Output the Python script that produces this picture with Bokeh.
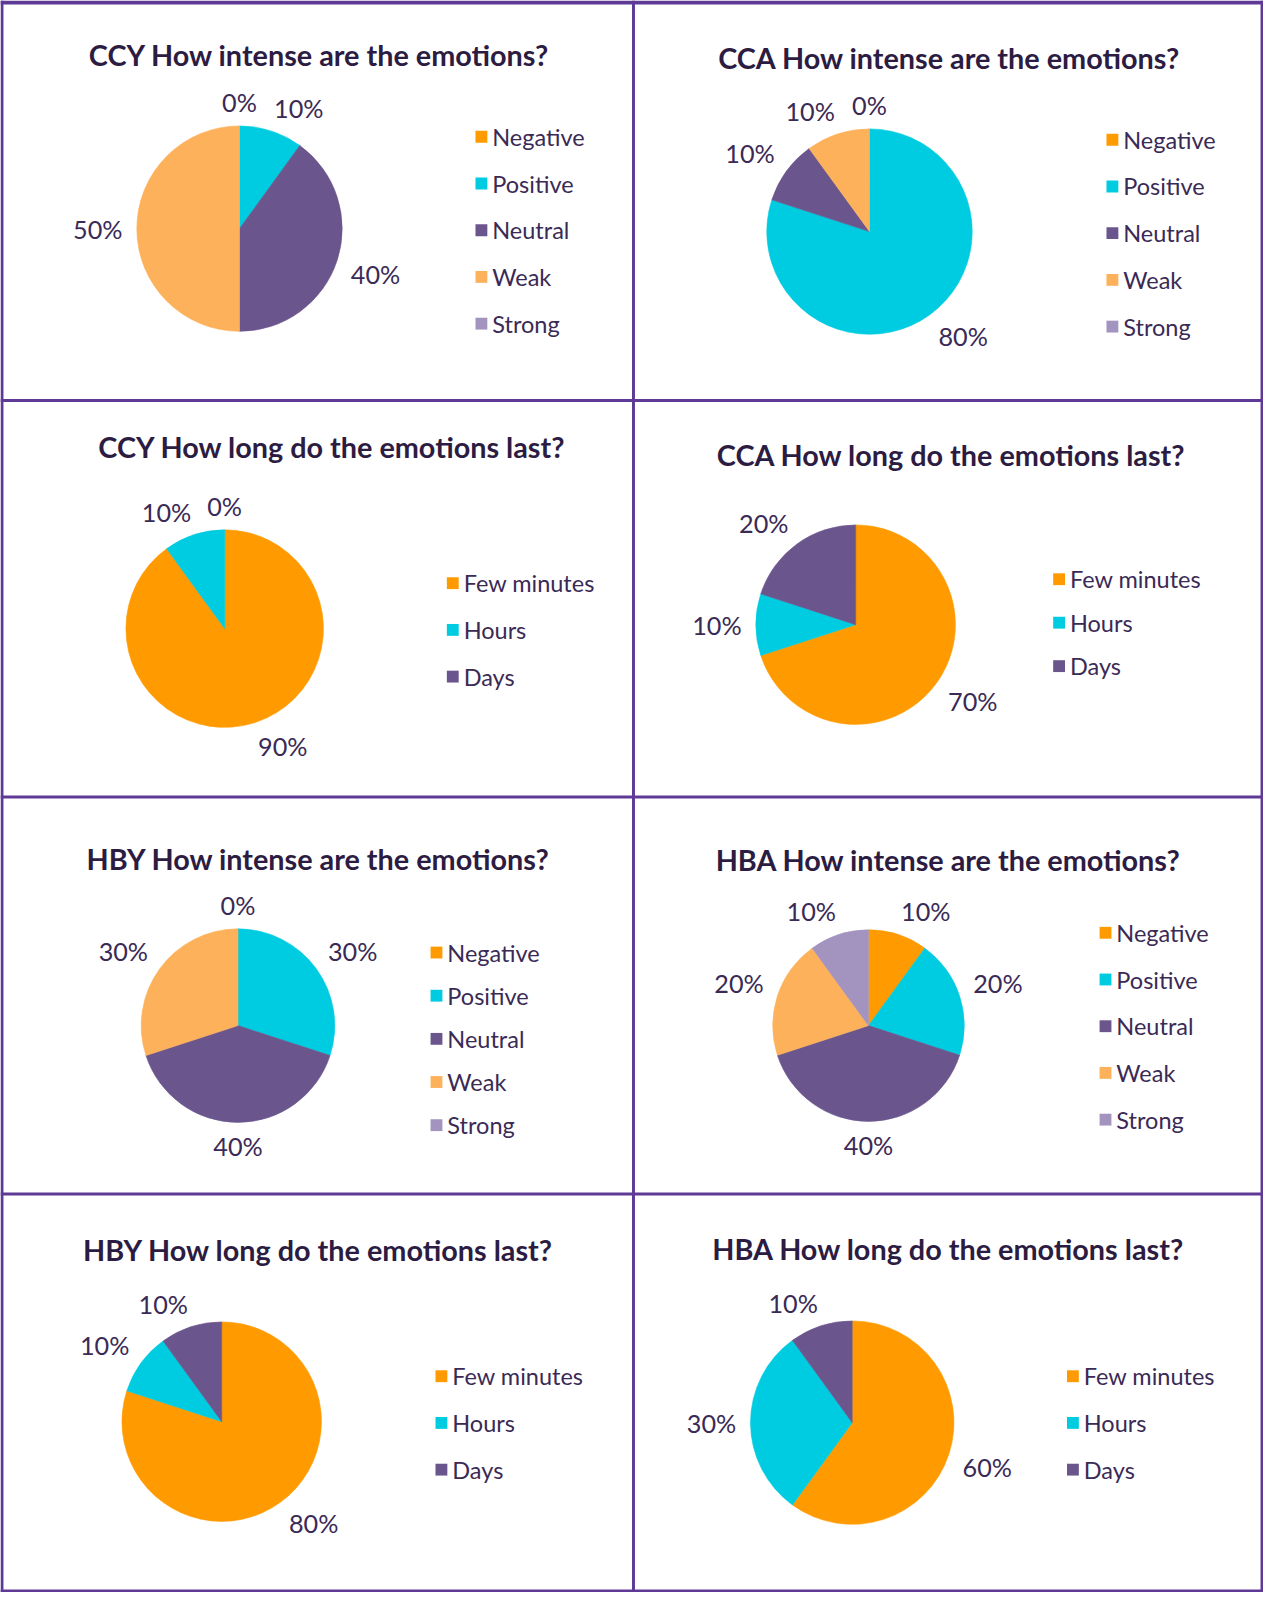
import math
from bokeh.plotting import figure
from bokeh.models import Range1d, ColumnDataSource
from bokeh.embed import file_html
from bokeh.resources import INLINE
from bokeh.core.properties import value

# ---------------- data ----------------
intensity_categories = ["Negative", "Positive", "Neutral", "Weak", "Strong"]
duration_categories = ["Few minutes", "Hours", "Days"]

ccy_intensity = [0, 10, 40, 50, 0]
cca_intensity = [0, 80, 10, 10, 0]
hby_intensity = [0, 30, 40, 30, 0]
hba_intensity = [10, 20, 40, 20, 10]

ccy_duration = [90, 10, 0]
cca_duration = [70, 10, 20]
hby_duration = [80, 10, 10]
hba_duration = [60, 30, 10]

titles = [
    "CCY How intense are the emotions?",
    "CCA How intense are the emotions?",
    "CCY How long do the emotions last?",
    "CCA How long do the emotions last?",
    "HBY How intense are the emotions?",
    "HBA How intense are the emotions?",
    "HBY How long do the emotions last?",
    "HBA How long do the emotions last?",
]

intensity_colors = ["#FF9A00", "#00CCE1", "#6A558D", "#FDB15B", "#A394BF"]
duration_colors = ["#FF9A00", "#00CCE1", "#6A558D"]

# ---------------- layout (reference pixel space) ----------------
REF_W, REF_H = 1279, 1612
W = 1263
H = round(REF_H * W / REF_W)
S = W / REF_W  # screen scale

BORDER = "#5E3A96"
TITLE_COLOR = "#2C1C42"
TEXT_COLOR = "#3A2A55"
FONT = "Lato"

panels = [
    # title center, pie center, radius, legend text x, legend first row y, legend step
    dict(values=ccy_intensity, cats=intensity_categories, cols=intensity_colors,
         title=(323, 55), c=(242, 231), r=104, lx=498, ly=138, step=47.3),
    dict(values=cca_intensity, cats=intensity_categories, cols=intensity_colors,
         title=(961, 58), c=(880, 234), r=104, lx=1137, ly=141, step=47.3),
    dict(values=ccy_duration, cats=duration_categories, cols=duration_colors,
         title=(336, 452), c=(227, 636), r=100, lx=469, ly=590, step=47.3),
    dict(values=cca_duration, cats=duration_categories, cols=duration_colors,
         title=(963, 460), c=(866, 632), r=101, lx=1083, ly=586, step=44),
    dict(values=hby_intensity, cats=intensity_categories, cols=intensity_colors,
         title=(322, 869), c=(240.5, 1038), r=98, lx=452.5, ly=964, step=43.7),
    dict(values=hba_intensity, cats=intensity_categories, cols=intensity_colors,
         title=(960, 870), c=(879, 1038), r=97, lx=1130, ly=944, step=47.3),
    dict(values=hby_duration, cats=duration_categories, cols=duration_colors,
         title=(322, 1265.5), c=(224, 1439), r=101, lx=457.5, ly=1393, step=47.3),
    dict(values=hba_duration, cats=duration_categories, cols=duration_colors,
         title=(960, 1264.5), c=(862.5, 1440), r=103, lx=1097, ly=1393, step=47.3),
]

p = figure(width=W, height=H, output_backend="svg", toolbar_location=None,
           x_range=Range1d(0, REF_W), y_range=Range1d(0, REF_H),
           min_border=0, outline_line_color=None)
p.axis.visible = False
p.xgrid.visible = False
p.ygrid.visible = False
p.background_fill_color = "white"
p.border_fill_color = "white"


def Y(y):
    return REF_H - y


# borders
bl = [0, 0, 1276, 0, 639.5, 0, 0, 0]
br = [REF_W, 3, REF_W, REF_W, 642.5, REF_W, REF_W, REF_W]
bt = [Y(0), Y(0), Y(0), Y(1609), Y(0), Y(403.5), Y(805), Y(1207)]
bb = [Y(4), Y(REF_H), Y(REF_H), Y(REF_H), Y(REF_H), Y(406.5), Y(808), Y(1210)]
p.quad(left=bl, right=br, top=bt, bottom=bb, fill_color=BORDER, line_color=None)

title_size = f"{29.2 * S:.1f}px"
label_size = f"{25.5 * S:.1f}px"
legend_size = f"{23.8 * S:.1f}px"

for spec, title in zip(panels, titles):
    vals = spec["values"]
    total = float(sum(vals))
    cx, cy = spec["c"]
    r = spec["r"]

    # wedges
    starts, ends, cols, xs, ys = [], [], [], [], []
    lab_x, lab_y, lab_t = [], [], []
    seen = set()
    cum = 0.0
    for v, col in zip(vals, spec["cols"]):
        t0 = 2 * math.pi * cum / total
        cum += v
        t1 = 2 * math.pi * cum / total
        if v > 0:
            starts.append(math.pi / 2 - t1)
            ends.append(math.pi / 2 - t0)
            cols.append(col)
            xs.append(cx)
            ys.append(Y(cy))
        # data label, outside end
        tm = (t0 + t1) / 2
        txt = f"{int(round(100 * v / total))}%"
        w = 15 * (len(txt) - 1) + 21
        h = 20
        gap = 14
        sx, sy = math.sin(tm), math.cos(tm)
        ox = w / 2 * max(-1, min(1, 3 * sx))
        oy = h / 2 * max(-1, min(1, 3 * sy))
        lx = cx + (r + gap) * sx + ox
        ly = Y(cy) + (r + gap) * sy + oy
        key = (round(lx), round(ly), txt)
        if key in seen:
            continue
        seen.add(key)
        lab_x.append(lx)
        lab_y.append(ly)
        lab_t.append(txt)

    src = ColumnDataSource(dict(x=xs, y=ys, start=starts, end=ends, color=cols))
    p.wedge(x="x", y="y", radius=r, start_angle="start", end_angle="end",
            fill_color="color", line_color="color", line_width=0.6, source=src)

    p.text(x=lab_x, y=lab_y, text=lab_t, text_font=value(FONT),
           text_font_size=label_size, text_color=TEXT_COLOR,
           text_align="center", text_baseline="middle")

    # title
    tx, ty = spec["title"]
    p.text(x=[tx], y=[Y(ty)], text=[title], text_font=value(FONT),
           text_font_style="bold", text_font_size=title_size,
           text_color=TITLE_COLOR, text_align="center", text_baseline="middle")

    # legend
    n = len(spec["cats"])
    leg_y = [Y(spec["ly"] + i * spec["step"]) for i in range(n)]
    leg_tx = [spec["lx"]] * n
    leg_sx = [spec["lx"] - 11] * n
    p.scatter(x=leg_sx, y=leg_y, marker="square", size=12 * S,
              fill_color=spec["cols"], line_color=None)
    p.text(x=leg_tx, y=leg_y, text=spec["cats"], text_font=value(FONT),
           text_font_size=legend_size, text_color=TEXT_COLOR,
           text_align="left", text_baseline="middle")

open("out.html", "w").write(file_html(p, INLINE))
